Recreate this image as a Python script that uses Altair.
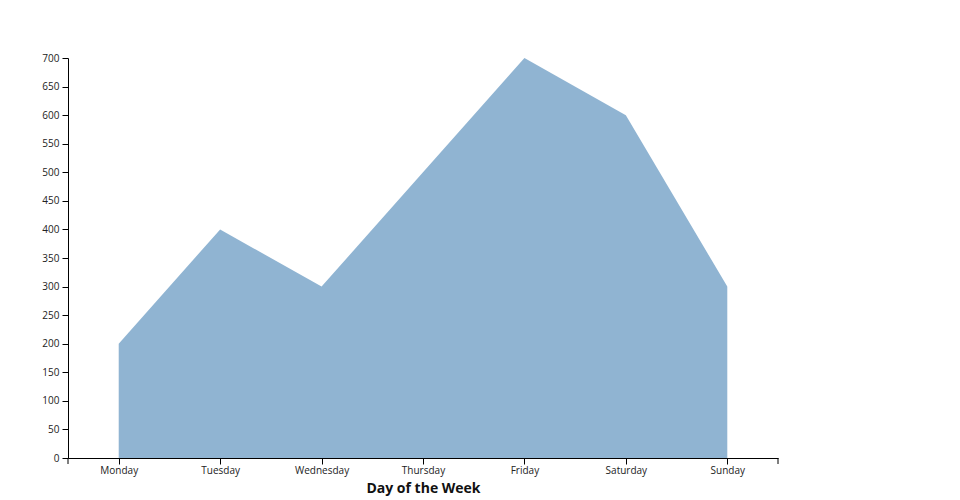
import altair as alt
import pandas as pd

days = ["Monday", "Tuesday", "Wednesday", "Thursday", "Friday", "Saturday", "Sunday"]
values = [200, 400, 300, 500, 700, 600, 300]
y_ticks = list(range(0, 701, 50))

df = pd.DataFrame({"day": days, "value": values})

W, H = 710, 400

area = alt.Chart(df).mark_area(color="steelblue", opacity=0.6).encode(
    x=alt.X("day:N", sort=days, title="Day of the Week",
            scale=alt.Scale(type="point", padding=0.5),
            axis=alt.Axis(labelAngle=0, labelFontSize=10, labelColor="#222",
                          titleFontSize=14, titleFontWeight="bold", titleColor="#111",
                          titlePadding=6, tickSize=6, labelPadding=1, grid=False,
                          domainColor="#000", tickColor="#000")),
    y=alt.Y("value:Q", title=None,
            scale=alt.Scale(domain=[0, 700], nice=False),
            axis=alt.Axis(values=y_ticks, labelFontSize=10, labelColor="#222",
                          tickSize=6, labelPadding=3, grid=False,
                          domainColor="#000", tickColor="#000")),
)

# outer end ticks of the x axis
ends = alt.Chart(pd.DataFrame({"e": [0, 1]})).mark_rule(color="#000").encode(
    x=alt.X("e:Q", scale=alt.Scale(domain=[0, 1]), axis=None),
    y=alt.value(H),
    y2=alt.value(H + 6),
)

chart = alt.layer(area, ends).resolve_scale(x="independent").properties(
    width=W, height=H, padding={"left": 33, "top": 45, "right": 5, "bottom": 5}
).configure(font="Open Sans").configure_view(stroke=None)

chart.save("out.html", embed_options={"renderer": "svg", "actions": False})
